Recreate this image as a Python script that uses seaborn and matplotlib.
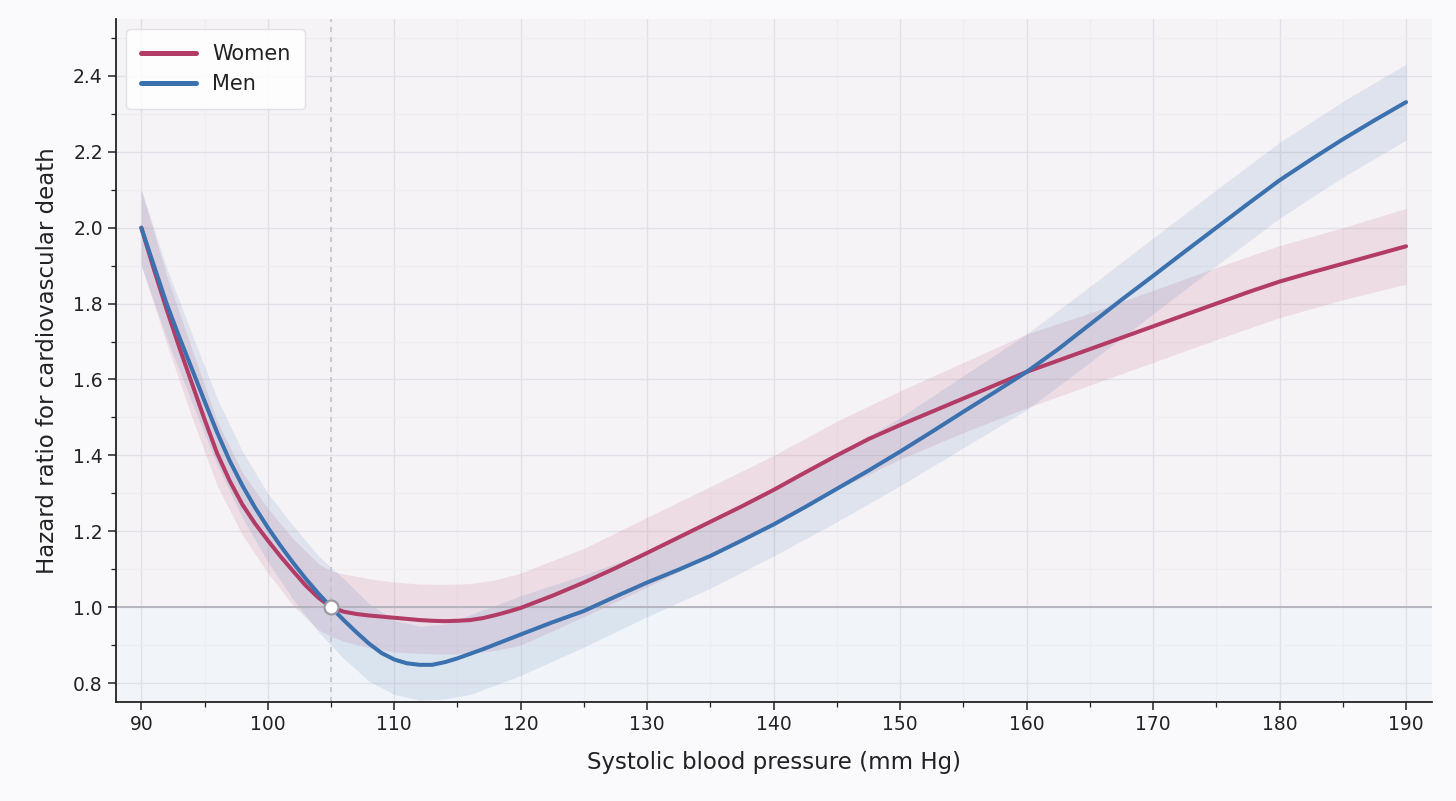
import numpy as np
import pandas as pd
import matplotlib
matplotlib.use("Agg")
import matplotlib.pyplot as plt
import seaborn as sns
from matplotlib.ticker import MultipleLocator

# ---- data ----
# hazard-ratio curves
sbp = [90, 91, 92, 93, 94, 95, 96, 97, 98, 99, 100, 101, 102, 103, 104, 105, 106, 107,
       108, 109, 110, 111, 112, 113, 114, 115, 116, 117, 118, 119, 120,
       122.5, 125, 127.5, 130, 132.5, 135, 137.5, 140, 142.5, 145, 147.5, 150, 152.5,
       155, 157.5, 160, 162.5, 165, 167.5, 170, 172.5, 175, 177.5, 180, 182.5, 185,
       187.5, 190]

women_hr = [2.00, 1.89, 1.785, 1.685, 1.59, 1.495, 1.405, 1.332, 1.27, 1.22, 1.176,
            1.134, 1.095, 1.057, 1.025, 1.00, 0.988, 0.982, 0.978, 0.975, 0.972, 0.969,
            0.966, 0.964, 0.963, 0.964, 0.966, 0.971, 0.979, 0.988, 0.998,
            1.03, 1.065, 1.103, 1.143, 1.184, 1.225, 1.266, 1.309, 1.355, 1.40, 1.443,
            1.48, 1.515, 1.55, 1.585, 1.62, 1.65, 1.68, 1.71, 1.74, 1.77, 1.80, 1.83,
            1.858, 1.882, 1.905, 1.928, 1.951]

men_hr = [2.00, 1.90, 1.80, 1.712, 1.628, 1.543, 1.46, 1.385, 1.32, 1.262, 1.21,
          1.162, 1.117, 1.075, 1.036, 1.00, 0.966, 0.934, 0.904, 0.879, 0.862, 0.852,
          0.848, 0.848, 0.855, 0.865, 0.877, 0.889, 0.902, 0.915, 0.928,
          0.96, 0.99, 1.028, 1.065, 1.099, 1.135, 1.176, 1.218, 1.264, 1.312, 1.36,
          1.41, 1.462, 1.515, 1.567, 1.62, 1.68, 1.745, 1.81, 1.873, 1.937, 2.00, 2.063,
          2.125, 2.18, 2.233, 2.283, 2.331]

# 95% confidence bands
band_sbp = [90, 92, 94, 96, 98, 100, 102, 104, 105, 106, 108, 110, 112, 114, 116, 118,
            120, 125, 130, 135, 140, 145, 150, 155, 160, 165, 170, 175, 180, 185, 190]

women_lo = [1.90, 1.695, 1.50, 1.32, 1.19, 1.09, 1.005, 0.94, 0.923, 0.91, 0.893, 0.882,
            0.878, 0.876, 0.878, 0.886, 0.90, 0.975, 1.053, 1.135, 1.219, 1.31, 1.39,
            1.46, 1.525, 1.585, 1.645, 1.705, 1.763, 1.81, 1.851]
women_hi = [2.10, 1.875, 1.68, 1.49, 1.355, 1.26, 1.18, 1.115, 1.095, 1.088, 1.075, 1.066,
            1.061, 1.06, 1.062, 1.072, 1.09, 1.155, 1.237, 1.318, 1.40, 1.49, 1.57,
            1.645, 1.72, 1.775, 1.835, 1.895, 1.953, 2.00, 2.051]

men_lo = [1.90, 1.71, 1.54, 1.375, 1.235, 1.12, 1.02, 0.935, 0.90, 0.865, 0.805, 0.77,
          0.755, 0.758, 0.77, 0.795, 0.82, 0.895, 0.975, 1.05, 1.135, 1.225, 1.32,
          1.42, 1.52, 1.645, 1.773, 1.90, 2.025, 2.133, 2.231]
men_hi = [2.10, 1.895, 1.72, 1.55, 1.41, 1.30, 1.215, 1.135, 1.105, 1.075, 1.01, 0.965,
          0.95, 0.955, 0.98, 1.005, 1.03, 1.085, 1.145, 1.22, 1.305, 1.40, 1.50,
          1.61, 1.72, 1.845, 1.973, 2.10, 2.225, 2.333, 2.431]

groups = ["Women", "Men"]
colors = {"Women": "#b23c65", "Men": "#3b71ae"}
ref_sbp = 105
ref_hr = 1.0

lines = pd.concat([
    pd.DataFrame({"sbp": sbp, "hr": women_hr, "sex": "Women"}),
    pd.DataFrame({"sbp": sbp, "hr": men_hr, "sex": "Men"}),
], ignore_index=True)
bands = {
    "Women": (women_lo, women_hi),
    "Men": (men_lo, men_hi),
}

# ---- style ----
sns.set_theme(style="ticks")
plt.rcParams['font.family'] = ['DejaVu Sans']
plt.rcParams['text.color'] = '#222222'
plt.rcParams['axes.labelcolor'] = '#222222'
plt.rcParams['xtick.color'] = '#222222'
plt.rcParams['ytick.color'] = '#222222'

fig = plt.figure(figsize=(14.56, 8.01), dpi=100)
fig.patch.set_facecolor('#fafafc')
ax = fig.add_axes([116/1456, 99/801, (1432-116)/1456, (702-19)/801])
ax.set_facecolor('#f6f3f6')

ax.set_xlim(88, 192.05)
ax.set_ylim(0.75, 2.55)

ax.axhspan(0.75, 1.0, color='#f1f4f9', zorder=0, lw=0)

ax.xaxis.set_major_locator(MultipleLocator(10))
ax.xaxis.set_minor_locator(MultipleLocator(5))
ax.yaxis.set_major_locator(MultipleLocator(0.2))
ax.yaxis.set_minor_locator(MultipleLocator(0.1))
ax.set_axisbelow(True)
ax.grid(which='major', color='#e1e0e7', lw=1.0)
ax.grid(which='minor', color='#eeedf2', lw=0.8)

# CI bands
for g in groups:
    lo, hi = bands[g]
    ax.fill_between(band_sbp, lo, hi, color=colors[g], alpha=0.12, lw=0, zorder=1)

sns.lineplot(data=lines, x="sbp", y="hr", hue="sex", hue_order=groups, palette=colors,
             lw=2.9, ax=ax, zorder=3, estimator=None, sort=True)
for ln in ax.get_lines():
    ln.set_solid_joinstyle('round')

ax.axhline(ref_hr, color='#b2b2bb', lw=1.3, zorder=2)
ax.axvline(ref_sbp, color='#c2c2c8', lw=1.2, ls=(0, (3, 3)), zorder=2)
ax.plot([ref_sbp], [ref_hr], 'o', ms=10, mfc='white', mec='#9a9aa2', mew=1.6, zorder=5)

for s in ['top', 'right']:
    ax.spines[s].set_visible(False)
for s in ['left', 'bottom']:
    ax.spines[s].set_color('#222222')
    ax.spines[s].set_linewidth(1.3)

ax.tick_params(axis='both', which='major', labelsize=13.5, length=6, width=1.1)
ax.tick_params(axis='both', which='minor', length=3.5, width=0.9)
ax.set_xticks(list(range(90, 191, 10)))
ax.set_xticklabels([str(v) for v in range(90, 191, 10)])

ax.set_xlabel("Systolic blood pressure (mm Hg)", fontsize=16.5, labelpad=12)
ax.set_ylabel("Hazard ratio for cardiovascular death", fontsize=16.5, labelpad=10)

leg = ax.legend(loc='upper left', fontsize=15, handlelength=2.65, handletextpad=0.75,
                frameon=True, borderpad=0.7, labelspacing=0.5, borderaxespad=0.5)
leg.get_frame().set_facecolor('white')
leg.get_frame().set_alpha(0.85)
leg.get_frame().set_edgecolor('#dcdce2')
for line in leg.get_lines():
    line.set_linewidth(3.6)

fig.savefig("out.png", dpi=100, facecolor=fig.get_facecolor())
